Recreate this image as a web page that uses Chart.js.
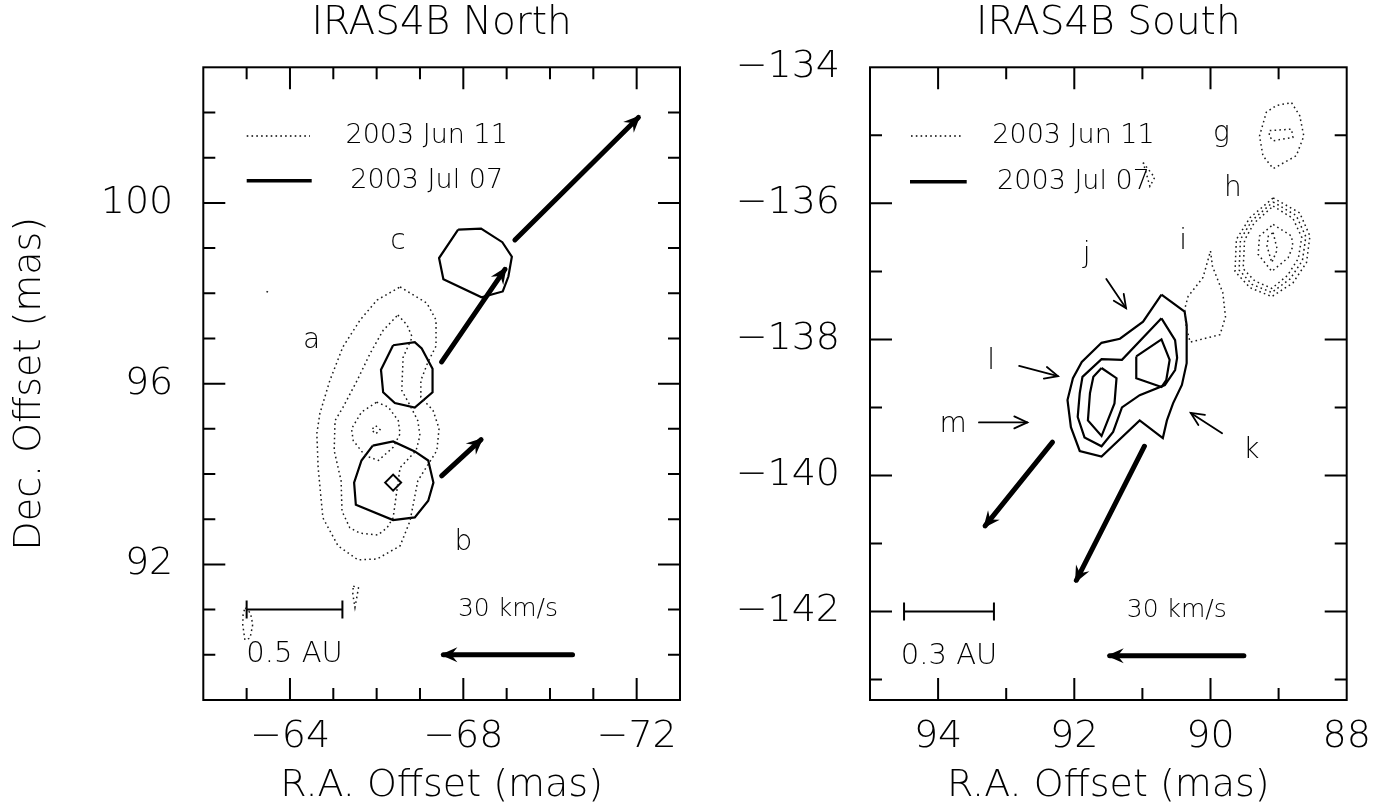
<!DOCTYPE html>
<html>
<head>
<meta charset="utf-8">
<script src="https://cdn.jsdelivr.net/npm/chart.js@4.4.1/dist/chart.umd.min.js"></script>
<style>
  html, body { margin: 0; padding: 0; background: #fff; width: 1385px; height: 810px; overflow: hidden; }
  canvas { position: absolute; top: 0; }
  #north { left: 0; }
  #south { left: 700px; }
</style>
</head>
<body>
<canvas id="north" width="700" height="810"></canvas>
<canvas id="south" width="685" height="810"></canvas>
<script>
// ---------- IRAS4B North: offsets in mas ----------
const northRATicks = [-63, -64, -65, -66, -67, -68, -69, -70, -71, -72];
const northRALabels = [-64, -68, -72];
const northDecTicks = [90, 91, 92, 93, 94, 95, 96, 97, 98, 99, 100, 101, 102];
const northDecLabels = [92, 96, 100];

// 2003 Jun 11 maser contours (dotted)
const northJun11Outer = [[-66.54, 98.14], [-67.16, 97.78], [-67.37, 97.41], [-67.37, 96.83], [-67.18, 96.47], [-67.02, 96.07], [-67.02, 95.70], [-67.30, 95.41], [-67.44, 95.01], [-67.39, 94.52], [-66.95, 93.85], [-66.77, 92.96], [-66.54, 92.41], [-66.01, 92.12], [-65.57, 92.10], [-65.11, 92.41], [-64.76, 93.03], [-64.65, 94.14], [-64.62, 94.90], [-64.69, 95.34], [-64.92, 96.07], [-65.22, 96.81], [-65.62, 97.41], [-66.01, 97.85]];
const northJun11Middle = [[-66.49, 97.52], [-66.70, 97.30], [-66.82, 97.03], [-66.61, 96.58], [-66.58, 95.85], [-66.77, 95.52], [-66.95, 95.18], [-67.00, 94.85], [-66.91, 94.52], [-66.54, 94.14], [-66.38, 93.03], [-66.24, 92.81], [-66.03, 92.65], [-65.62, 92.69], [-65.38, 92.81], [-65.20, 93.18], [-65.18, 93.85], [-65.02, 94.52], [-65.04, 95.18], [-65.22, 95.47], [-65.55, 96.07], [-65.85, 96.67], [-66.15, 97.18]];
const northJun11Inner = [[-66.00, 95.59], [-66.27, 95.48], [-66.50, 95.18], [-66.54, 94.89], [-66.38, 94.59], [-66.04, 94.30], [-65.73, 94.41], [-65.46, 94.74], [-65.42, 95.00], [-65.65, 95.37]];
const northJun11Peak = [[-65.98, 95.07], [-66.08, 94.98], [-65.98, 94.89], [-65.88, 94.98]];
const northJun11Spot1 = [[-63.46, 98.04], [-63.50, 98.02], [-63.48, 98.00]];
const northJun11Spot2 = [[-65.46, 91.52], [-65.58, 91.48], [-65.54, 91.26], [-65.50, 91.05], [-65.45, 91.34]];
const northJun11Spot3 = [[-62.97, 91.04], [-63.09, 90.92], [-63.14, 90.67], [-63.08, 90.37], [-62.96, 90.33], [-62.91, 90.67], [-62.92, 90.92]];

// 2003 Jul 07 maser contours (solid)
const northJul07A = [[-66.38, 96.85], [-66.88, 96.92], [-67.04, 96.78], [-67.29, 96.33], [-67.29, 95.81], [-66.88, 95.47], [-66.42, 95.57], [-66.15, 95.81], [-66.10, 96.31]];
const northJul07B = [[-65.91, 94.63], [-66.38, 94.72], [-66.88, 94.50], [-67.19, 94.30], [-67.31, 93.81], [-67.19, 93.41], [-66.88, 93.04], [-66.38, 92.98], [-65.52, 93.32], [-65.48, 93.81], [-65.65, 94.30]];
const northJul07C = [[-67.88, 99.41], [-68.41, 99.43], [-68.90, 99.13], [-69.12, 98.81], [-69.04, 98.37], [-68.91, 98.04], [-68.42, 97.91], [-67.54, 98.31], [-67.44, 98.78]];
const northMarker = [[-66.38, 93.81]];

// proper motions [start, end] and reference marks
const northMotionA = [[-67.50, 96.48], [-68.96, 98.53]];
const northMotionB = [[-67.50, 93.96], [-68.41, 94.76]];
const northMotionC = [[-69.19, 99.18], [-72.04, 101.89]];
const northVelocityKey = [[-70.52, 90.0], [-67.54, 90.0]];
const northScaleBar = [[-63.0, 91.0], [-65.21, 91.0]];
const northFeatureLabels = [['a', -64.50, 96.96], ['b', -68.00, 92.48], ['c', -66.49, 99.15]];

// ---------- IRAS4B South: offsets in mas ----------
const southRATicks = [94, 93, 92, 91, 90, 89];
const southRALabels = [94, 92, 90, 88];
const southDecTicks = [-135, -136, -137, -138, -139, -140, -141, -142, -143];
const southDecLabels = [-134, -136, -138, -140, -142];

// 2003 Jun 11 maser contours (dotted)
const southJun11G1 = [[88.81, -134.52], [88.69, -134.71], [88.63, -135.01], [88.74, -135.30], [89.08, -135.49], [89.23, -135.30], [89.28, -135.01], [89.18, -134.66], [89.03, -134.56]];
const southJun11G2 = [[89.13, -134.93], [88.81, -134.91], [88.79, -135.03], [89.08, -135.08], [89.14, -135.01]];
const southJun11H1 = [[89.08, -135.92], [88.69, -136.14], [88.54, -136.48], [88.59, -136.87], [88.79, -137.17], [89.10, -137.37], [89.42, -137.24], [89.64, -137.00], [89.62, -136.53], [89.42, -136.21]];
const southJun11H2 = [[89.08, -135.98], [88.74, -136.18], [88.60, -136.49], [88.65, -136.84], [88.83, -137.11], [89.10, -137.31], [89.39, -137.19], [89.58, -136.98], [89.56, -136.53], [89.39, -136.25]];
const southJun11H3 = [[89.08, -136.04], [88.79, -136.22], [88.66, -136.50], [88.71, -136.81], [88.87, -137.06], [89.10, -137.25], [89.35, -137.14], [89.52, -136.96], [89.50, -136.54], [89.36, -136.29]];
const southJun11H4 = [[89.08, -136.31], [88.81, -136.48], [88.79, -136.63], [88.86, -136.80], [89.10, -137.00], [89.30, -136.75], [89.28, -136.48]];
const southJun11H5 = [[89.08, -136.43], [89.02, -136.68], [89.10, -136.87], [89.17, -136.63], [89.15, -136.48]];
const southJun11I = [[90.00, -136.70], [89.97, -136.93], [89.82, -137.31], [89.78, -137.67], [89.86, -137.93], [90.30, -138.04], [90.36, -137.79], [90.38, -137.56], [90.33, -137.37], [90.11, -137.09]];
const southJun11Spot = [[90.99, -135.40], [90.82, -135.62], [90.89, -135.75], [90.94, -135.57]];

// 2003 Jul 07 maser contours (solid)
const southJul07Outer = [[90.72, -137.34], [90.38, -137.59], [90.35, -137.79], [90.35, -138.35], [90.42, -138.67], [90.55, -138.94], [90.64, -139.19], [90.70, -139.45], [91.04, -139.19], [91.60, -139.72], [91.92, -139.64], [92.05, -139.29], [92.10, -138.89], [92.02, -138.57], [91.89, -138.33], [91.60, -138.05], [91.33, -137.99], [90.99, -137.74]];
const southJul07Middle = [[90.72, -137.69], [90.52, -138.01], [90.49, -138.27], [90.52, -138.45], [90.67, -138.67], [91.04, -138.82], [91.30, -139.00], [91.43, -139.36], [91.60, -139.57], [91.85, -139.44], [91.95, -139.14], [91.92, -138.79], [91.88, -138.55], [91.60, -138.29], [91.30, -138.30]];
const southJul07PeakL = [[91.60, -138.42], [91.38, -138.57], [91.41, -138.94], [91.60, -139.42], [91.80, -139.19], [91.77, -138.79], [91.72, -138.55]];
const southJul07PeakR = [[91.09, -138.25], [90.72, -138.00], [90.60, -138.30], [90.65, -138.60], [90.72, -138.70], [91.09, -138.57]];

// proper motions, pointers and reference marks
const southMotionA = [[92.32, -139.51], [93.31, -140.74]];
const southMotionB = [[90.97, -139.57], [91.97, -141.54]];
const southVelocityKey = [[89.51, -142.65], [91.48, -142.65]];
const southScaleBar = [[94.50, -142.0], [93.18, -142.0]];
const southPointerJ = [[91.53, -137.11], [91.24, -137.54]];
const southPointerL = [[92.81, -138.39], [92.24, -138.54]];
const southPointerM = [[93.40, -139.22], [92.69, -139.22]];
const southPointerK = [[89.83, -139.38], [90.29, -139.08]];
const southFeatureLabels = [['g', 89.84, -134.98], ['h', 89.67, -135.79], ['i', 90.40, -136.56], ['j', 91.82, -136.75], ['l', 93.22, -138.33], ['m', 93.78, -139.26], ['k', 89.40, -139.63]];

const epochs = ['2003 Jun 11', '2003 Jul 07'];

// ---------- helpers ----------
const FONT = 'DejaVu Sans';
const WEIGHT = '200';
const font = size => ({ family: FONT, size, weight: WEIGHT });
const fmt = v => (v < 0 ? '\u2212' + Math.abs(v) : String(v));
const pts = arr => arr.map(([x, y]) => ({ x, y }));
const ring = arr => pts(arr.concat([arr[0]]));
const DOT = [1.6, 3.2];

function contour(arr, dotted) {
  return {
    data: ring(arr), showLine: true, pointRadius: 0, fill: false, tension: 0,
    borderColor: dotted ? '#1a1a1a' : '#000', borderWidth: dotted ? 1.5 : 2.2,
    borderDash: dotted ? DOT : [], borderJoinStyle: 'miter'
  };
}
function vector(arr, kind, extra) {
  return Object.assign({
    data: pts(arr), showLine: true, pointRadius: 0, fill: false,
    borderColor: '#000', borderWidth: kind === 'bold' ? 5 : 1.8,
    borderCapStyle: 'round', arrow: kind
  }, extra || {});
}
function scaleBar(arr, caption) {
  return {
    data: pts(arr), showLine: true, borderColor: '#000', borderWidth: 2,
    pointStyle: 'line', pointRotation: 90, pointRadius: 9, pointBorderWidth: 2,
    pointBorderColor: '#000', pointBackgroundColor: '#000',
    caption, captionOffset: 45, captionSize: 29
  };
}

// frame, inward ticks, arrowheads, legend and text annotations
const decor = {
  id: 'decor',
  afterDatasetsDraw(chart, args, o) {
    const { ctx, chartArea: a, scales: { x, y } } = chart;
    ctx.save();
    ctx.strokeStyle = '#000';
    ctx.fillStyle = '#000';

    // frame
    ctx.lineWidth = 2;
    ctx.strokeRect(a.left, a.top, a.right - a.left, a.bottom - a.top);

    // ticks on all four sides
    ctx.beginPath();
    o.xTicks.forEach(v => {
      const p = x.getPixelForValue(v);
      const len = o.xMajor.includes(v) ? 22 : 12;
      ctx.moveTo(p, a.bottom); ctx.lineTo(p, a.bottom - len);
      ctx.moveTo(p, a.top); ctx.lineTo(p, a.top + len);
    });
    o.yTicks.forEach(v => {
      const p = y.getPixelForValue(v);
      const len = o.yMajor.includes(v) ? 22 : 12;
      ctx.moveTo(a.left, p); ctx.lineTo(a.left + len, p);
      ctx.moveTo(a.right, p); ctx.lineTo(a.right - len, p);
    });
    ctx.stroke();

    // arrowheads and captions
    chart.data.datasets.forEach((ds, i) => {
      const els = chart.getDatasetMeta(i).data;
      if (ds.arrow) {
        const p0 = els[0], p1 = els[els.length - 1];
        const dx = p1.x - p0.x, dy = p1.y - p0.y, L = Math.hypot(dx, dy);
        const ux = dx / L, uy = dy / L, nx = -uy, ny = ux;
        if (ds.arrow === 'bold') {
          const tx = p1.x + ux * 3, ty = p1.y + uy * 3;
          ctx.beginPath();
          ctx.moveTo(tx, ty);
          ctx.lineTo(tx - 17 * ux + 7.5 * nx, ty - 17 * uy + 7.5 * ny);
          ctx.lineTo(tx - 11 * ux, ty - 11 * uy);
          ctx.lineTo(tx - 17 * ux - 7.5 * nx, ty - 17 * uy - 7.5 * ny);
          ctx.closePath();
          ctx.fill();
        } else {
          ctx.lineWidth = 1.8; ctx.lineCap = 'round';
          ctx.beginPath();
          ctx.moveTo(p1.x - 13 * ux + 6 * nx, p1.y - 13 * uy + 6 * ny);
          ctx.lineTo(p1.x, p1.y);
          ctx.lineTo(p1.x - 13 * ux - 6 * nx, p1.y - 13 * uy - 6 * ny);
          ctx.stroke();
        }
      }
      if (ds.caption) {
        const cx = (els[0].x + els[els.length - 1].x) / 2;
        const cy = (els[0].y + els[els.length - 1].y) / 2 + ds.captionOffset;
        ctx.font = `${WEIGHT} ${ds.captionSize}px "${FONT}"`;
        ctx.textAlign = 'center'; ctx.textBaseline = 'middle';
        ctx.fillText(ds.caption, cx, cy);
      }
    });

    // feature labels
    ctx.font = `${WEIGHT} 28px "${FONT}"`;
    ctx.textAlign = 'center'; ctx.textBaseline = 'middle';
    o.labels.forEach(([t, vx, vy]) => ctx.fillText(t, x.getPixelForValue(vx), y.getPixelForValue(vy)));

    // epoch legend
    const L = o.legend;
    ctx.font = `${WEIGHT} 27px "${FONT}"`;
    epochs.forEach((t, k) => {
      const yy = a.top + L.rows[k];
      ctx.beginPath();
      ctx.lineWidth = k === 0 ? 1.6 : 3.6;
      ctx.lineCap = 'butt';
      ctx.setLineDash(k === 0 ? DOT : []);
      ctx.moveTo(a.left + L.samples[k][0], yy);
      ctx.lineTo(a.left + L.samples[k][1], yy);
      ctx.stroke();
      ctx.setLineDash([]);
      ctx.fillText(t, a.left + L.textCenter, yy);
    });
    ctx.restore();
  }
};

function panel(id, cfg) {
  const black = '#000';
  return new Chart(document.getElementById(id), {
    type: 'scatter',
    data: { datasets: cfg.datasets },
    options: {
      responsive: false, animation: false, events: [],
      layout: { padding: { left: 0, right: cfg.padRight, top: 0, bottom: 0 } },
      plugins: {
        legend: { display: false },
        tooltip: { enabled: false },
        title: {
          display: true, text: cfg.title, fullSize: false, color: black,
          font: font(39), padding: { top: 0, bottom: 20.5 }
        },
        decor: {
          xTicks: cfg.xTicks, xMajor: cfg.xMajor, yTicks: cfg.yTicks, yMajor: cfg.yMajor,
          labels: cfg.labels, legend: cfg.legend
        }
      },
      scales: {
        x: {
          type: 'linear', reverse: true, min: cfg.xMin, max: cfg.xMax,
          grid: { display: false }, border: { display: false },
          afterBuildTicks: s => { s.ticks = cfg.xLabels.map(v => ({ value: v })); },
          afterFit: s => { s.height = 110; },
          ticks: { callback: fmt, font: font(38), color: black, padding: 6, maxRotation: 0, autoSkip: false },
          title: { display: true, text: 'R.A. Offset (mas)', font: font(38), color: black, padding: { top: 0, bottom: 1 } }
        },
        y: {
          type: 'linear', min: cfg.yMin, max: cfg.yMax,
          grid: { display: false }, border: { display: false },
          afterBuildTicks: s => { s.ticks = cfg.yLabels.map(v => ({ value: v })); },
          afterFit: s => { s.width = cfg.yAxisWidth; },
          ticks: { callback: fmt, font: font(38), color: black, padding: 22, autoSkip: false },
          title: { display: cfg.yTitle, text: 'Dec. Offset (mas)', font: font(38), color: black, padding: { top: 7, bottom: 0 } }
        }
      }
    },
    plugins: [decor]
  });
}

panel('north', {
  title: 'IRAS4B North',
  xMin: -73, xMax: -62, yMin: 89, yMax: 103,
  xTicks: northRATicks, xMajor: northRALabels, xLabels: northRALabels,
  yTicks: northDecTicks, yMajor: northDecLabels, yLabels: northDecLabels,
  yAxisWidth: 203.3, padRight: 20, yTitle: true,
  labels: northFeatureLabels,
  legend: { samples: [[43.4, 106.7], [43.4, 108.4]], rows: [68.7, 113.4], textCenter: 223.4 },
  datasets: [
    contour(northJun11Outer, true), contour(northJun11Middle, true), contour(northJun11Inner, true),
    contour(northJun11Peak, true), contour(northJun11Spot1, true), contour(northJun11Spot2, true),
    contour(northJun11Spot3, true),
    contour(northJul07A, false), contour(northJul07B, false), contour(northJul07C, false),
    { data: pts(northMarker), showLine: false, pointStyle: 'rectRot', pointRadius: 8,
      pointBorderWidth: 2, pointBorderColor: '#000', pointBackgroundColor: 'rgba(0,0,0,0)' },
    vector(northMotionA, 'bold'), vector(northMotionB, 'bold'), vector(northMotionC, 'bold'),
    vector(northVelocityKey, 'bold', { caption: '30 km/s', captionOffset: -45, captionSize: 25 }),
    scaleBar(northScaleBar, '0.5 AU')
  ]
});

panel('south', {
  title: 'IRAS4B South',
  xMin: 88, xMax: 95, yMin: -143.3, yMax: -134,
  xTicks: southRATicks, xMajor: southRALabels, xLabels: southRALabels,
  yTicks: southDecTicks, yMajor: southDecLabels, yLabels: southDecLabels,
  yAxisWidth: 170, padRight: 38.3, yTitle: false,
  labels: southFeatureLabels,
  legend: { samples: [[41, 91.7], [40, 96.7]], rows: [68.7, 114.4], textCenter: 203.5 },
  datasets: [
    contour(southJun11G1, true), contour(southJun11G2, true),
    contour(southJun11H1, true), contour(southJun11H2, true), contour(southJun11H3, true),
    contour(southJun11H4, true), contour(southJun11H5, true),
    contour(southJun11I, true), contour(southJun11Spot, true),
    contour(southJul07Outer, false), contour(southJul07Middle, false),
    contour(southJul07PeakL, false), contour(southJul07PeakR, false),
    vector(southMotionA, 'bold'), vector(southMotionB, 'bold'),
    vector(southPointerJ, 'thin'), vector(southPointerL, 'thin'),
    vector(southPointerM, 'thin'), vector(southPointerK, 'thin'),
    vector(southVelocityKey, 'bold', { caption: '30 km/s', captionOffset: -45, captionSize: 25 }),
    scaleBar(southScaleBar, '0.3 AU')
  ]
});
</script>
</body>
</html>
